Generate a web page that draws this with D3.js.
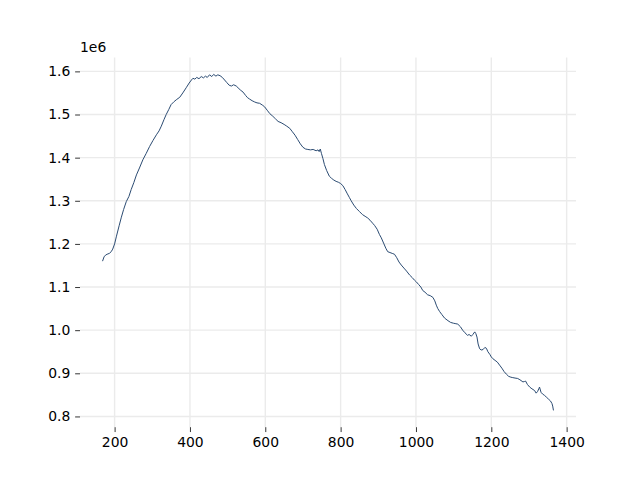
<!DOCTYPE html>
<html>
<head>
<meta charset="utf-8">
<script src="https://cdn.jsdelivr.net/npm/d3@7"></script>
<style>
html,body{margin:0;padding:0;background:#fff;}
svg{display:block;font-family:"DejaVu Sans",sans-serif;}
</style>
</head>
<body>
<svg id="chart" width="640" height="480"></svg>
<script>
// Data
const xValues = [
  168,172,176,180,186,191,195,200,205,212,
  218,224,231,238,244,251,258,266,275,284,
  293,302,311,318,324,331,337,344,350,358,
  365,373,381,390,398,404,408,413,418,424,
  430,436,441,446,452,458,463,469,474,480,
  486,492,498,504,510,516,523,530,535,541,
  548,553,558,565,572,578,585,592,598,605,
  612,620,627,634,642,650,657,665,672,679,
  686,693,700,707,713,720,727,735,740,743,
  746,749,753,757,763,770,776,782,788,794,
  800,806,812,818,823,828,835,842,850,858,
  865,872,878,885,890,897,903,908,914,920,
  925,931,937,943,949,955,961,968,975,983,
  990,996,1001,1007,1013,1018,1024,1031,1038,1045,
  1050,1054,1058,1063,1069,1076,1085,1092,1100,1106,
  1111,1118,1124,1130,1137,1141,1147,1151,1156,1159,
  1162,1165,1169,1173,1178,1183,1187,1191,1196,1200,
  1204,1210,1216,1222,1228,1234,1240,1246,1252,1257,
  1263,1270,1276,1284,1288,1291,1296,1302,1308,1315,
  1319,1323,1326,1328,1332,1336,1341,1346,1352,1357,
  1361,1363,1365
];
const yValues = [
  1160000,1170000,1174000,1176000,1178000,1182000,1188000,1200000,1218000,1242000,
  1262000,1280000,1298000,1310000,1326000,1342000,1360000,1376000,1395000,1410000,
  1426000,1440000,1453000,1462000,1473000,1488000,1500000,1512000,1523000,1530000,
  1535000,1540000,1550000,1562000,1573000,1580000,1584000,1582000,1586000,1583000,
  1588000,1585000,1589000,1586000,1592000,1588000,1593000,1589000,1592000,1590000,
  1586000,1580000,1574000,1568000,1566000,1569000,1566000,1560000,1556000,1552000,
  1544000,1539000,1536000,1532000,1529000,1527000,1526000,1522000,1518000,1510000,
  1502000,1496000,1490000,1484000,1481000,1477000,1473000,1468000,1460000,1452000,
  1442000,1432000,1424000,1420000,1419000,1418000,1419000,1416000,1418000,1414000,
  1420000,1410000,1398000,1384000,1370000,1357000,1352000,1348000,1345000,1343000,
  1340000,1335000,1326000,1316000,1308000,1300000,1290000,1282000,1275000,1268000,
  1264000,1260000,1255000,1248000,1243000,1234000,1222000,1214000,1202000,1190000,
  1182000,1180000,1178000,1176000,1168000,1158000,1151000,1144000,1137000,1128000,
  1122000,1116000,1112000,1106000,1100000,1092000,1088000,1082000,1080000,1076000,
  1068000,1058000,1050000,1043000,1036000,1028000,1022000,1018000,1016000,1015000,
  1014000,1008000,1000000,994000,988000,990000,986000,990000,996000,992000,
  984000,968000,957000,954000,955000,960000,958000,950000,944000,938000,
  934000,930000,926000,919000,912000,904000,898000,893000,891000,890000,
  889000,888000,885000,880000,881000,882000,874000,868000,864000,860000,
  854000,858000,864000,868000,856000,852000,849000,845000,840000,836000,
  830000,824000,814000
];

const xTicks = [200,400,600,800,1000,1200,1400];
const yTicks = [800000,900000,1000000,1100000,1200000,1300000,1400000,1500000,1600000];
const offsetLabel = "1e6";

const m = {left:80, right:576, top:57.6, bottom:427.2};
const svg = d3.select("#chart");

const xMin = d3.min(xValues), xMax = d3.max(xValues);
const yMin = d3.min(yValues), yMax = d3.max(yValues);
const xPad = (xMax - xMin) * 0.05, yPad = (yMax - yMin) * 0.05;

const x = d3.scaleLinear().domain([xMin - xPad, xMax + xPad]).range([m.left, m.right]);
const y = d3.scaleLinear().domain([yMin - yPad, yMax + yPad]).range([m.bottom, m.top]);

// grid
const grid = svg.append("g");
grid.selectAll("line.v").data(xTicks).join("line")
  .attr("x1", d => x(d)).attr("x2", d => x(d))
  .attr("y1", m.top).attr("y2", m.bottom)
  .attr("stroke", "#ebebeb").attr("stroke-width", 1.4);
grid.selectAll("line.h").data(yTicks).join("line")
  .attr("x1", m.left).attr("x2", m.right)
  .attr("y1", d => y(d)).attr("y2", d => y(d))
  .attr("stroke", "#ebebeb").attr("stroke-width", 1.4);

// axes
const fs = 13.9;
const xAxis = d3.axisBottom(x).tickValues(xTicks).tickSize(4.86).tickPadding(4.86).tickFormat(d3.format("d"));
const gx = svg.append("g").attr("transform", `translate(0,${m.bottom})`).call(xAxis);
const yAxis = d3.axisLeft(y).tickValues(yTicks).tickSize(4.86).tickPadding(4.86).tickFormat(d => (d/1e6).toFixed(1));
const gy = svg.append("g").attr("transform", `translate(${m.left},0)`).call(yAxis);
[gx, gy].forEach(g => {
  g.select(".domain").remove();
  g.selectAll(".tick line").attr("stroke", "#000").attr("stroke-width", 0.8);
  g.selectAll(".tick text").attr("fill", "#000").style("font-size", fs + "px").style("font-family", "DejaVu Sans");
});

svg.append("text").attr("x", m.left).attr("y", 52)
  .attr("fill", "#000").style("font-size", fs + "px").style("font-family", "DejaVu Sans")
  .text(offsetLabel);

// line
const pts = xValues.map((d, i) => [d, yValues[i]]);
svg.append("path").datum(pts)
  .attr("fill", "none").attr("stroke", "#2b4b72").attr("stroke-width", 1)
  .attr("stroke-linejoin", "round")
  .attr("d", d3.line().x(d => x(d[0])).y(d => y(d[1])));
</script>
</body>
</html>
